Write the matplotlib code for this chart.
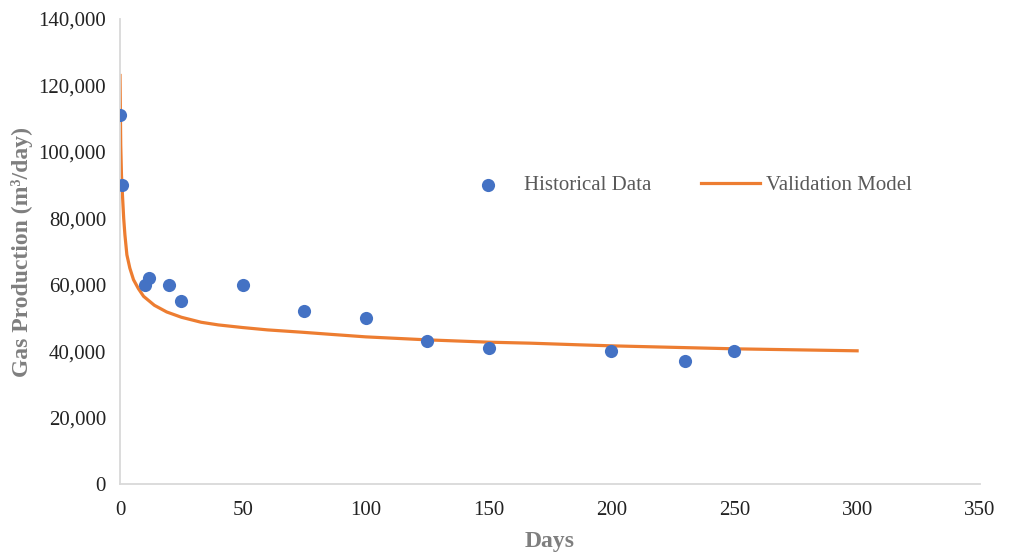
import matplotlib
matplotlib.use("Agg")
import matplotlib.pyplot as plt
from matplotlib.ticker import FuncFormatter, MultipleLocator

# Historical data
hist_days = [0, 1, 10, 12, 20, 25, 50, 75, 100, 125, 150, 200, 230, 250]
hist_gas = [111000, 90000, 60000, 62000, 60000, 55000, 60000, 52000, 50000,
            43000, 41000, 40000, 37000, 40000]

# Validation model curve
model_days = [0, 0.3, 0.6, 1.0, 1.5, 2.0, 2.8, 4, 5.5, 7.5, 9.6, 14, 19, 25,
              33, 40, 50, 60, 74, 85, 100, 125, 150, 167, 187, 200, 250, 300]
model_gas = [123000, 102000, 93000, 87000, 80000, 75000, 69000, 65000, 61500,
             58800, 56500, 53800, 51800, 50200, 48700, 47900, 47100, 46400,
             45700, 45100, 44300, 43400, 42700, 42400, 41900, 41600, 40700, 40100]

plt.rcParams['font.family'] = ['Liberation Serif', 'DejaVu Serif']

fig = plt.figure(figsize=(10.11, 5.56), dpi=100)
ax = fig.add_axes([0.1187, 0.1295, 0.8506, 0.8363])

ax.plot(model_days, model_gas, color='#ED7D31', lw=2.3, label='Validation Model', zorder=2)
ax.scatter(hist_days, hist_gas, s=90, color='#4472C4', label='Historical Data', zorder=3,
           linewidths=0)

ax.set_xlim(0, 350)
ax.set_ylim(0, 140000)
ax.xaxis.set_major_locator(MultipleLocator(50))
ax.yaxis.set_major_locator(MultipleLocator(20000))
ax.yaxis.set_major_formatter(FuncFormatter(lambda v, p: f"{int(v):,}"))

for s in ['top', 'right']:
    ax.spines[s].set_visible(False)
for s in ['left', 'bottom']:
    ax.spines[s].set_color('#d9d9d9')
    ax.spines[s].set_linewidth(1.3)
ax.tick_params(length=0, labelsize=15, colors='#222222', pad=10)
ax.tick_params(axis='x', pad=12)

ax.set_xlabel('Days', fontsize=17, fontweight='bold', color='#7f7f7f', labelpad=8)
ax.set_ylabel('Gas Production (m³/day)', fontsize=17, fontweight='bold', color='#7f7f7f', labelpad=4)

handles, labels = ax.get_legend_handles_labels()
leg = ax.legend([handles[1], handles[0]], [labels[1], labels[0]], ncol=2, frameon=False,
                fontsize=15, loc='center', bbox_to_anchor=(0.6575, 0.642),
                handlelength=2.8, columnspacing=2.4, handletextpad=0.3)
for t in leg.get_texts():
    t.set_color('#595959')

fig.savefig('out.png', dpi=100)
